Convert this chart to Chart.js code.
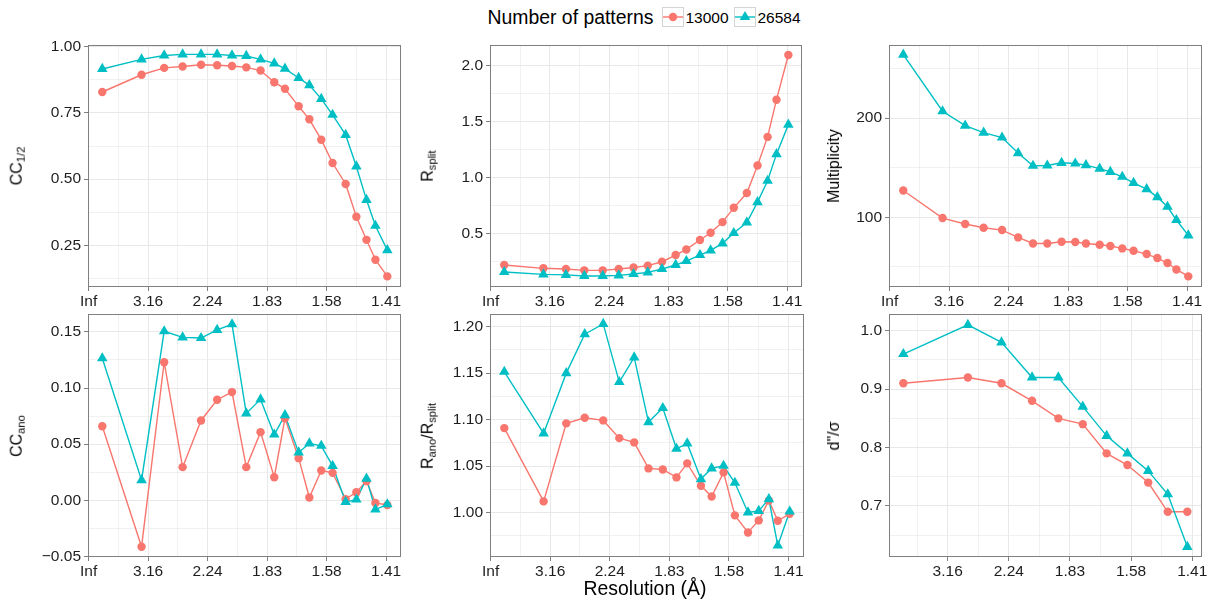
<!DOCTYPE html>
<html>
<head>
<meta charset="utf-8">
<script src="https://cdn.jsdelivr.net/npm/chart.js@4"></script>
<style>
  body { margin: 0; background: #fff; }
  #fig { position: relative; width: 1217px; height: 608px; overflow: hidden;
         font-family: 'Liberation Sans', Arial, sans-serif; color: #000; }
  #fig canvas { position: absolute; }
  .ytitle { position: absolute; font-size: 16px; white-space: nowrap; line-height: 1;
            transform: translate(-50%, -50%) rotate(-90deg); }
  .ytitle sub { font-size: 70%; vertical-align: -0.3em; }
  .xtitle { position: absolute; font-size: 19.4px; white-space: nowrap; line-height: 1;
            transform: translate(-50%, -50%); }
  .leg { position: absolute; white-space: nowrap; line-height: 1; }
</style>
</head>
<body>
<div id="fig"></div>
<script>
// resolution bins, plotted on a 1/d^2 axis
const binX = [0.023, 0.089, 0.127, 0.158, 0.189, 0.216, 0.241, 0.265, 0.289, 0.312,
              0.330, 0.353, 0.371, 0.391, 0.410, 0.432, 0.450, 0.467, 0.482, 0.502];
const danoX = [0.0275, 0.133, 0.188, 0.238, 0.281, 0.321, 0.360, 0.394, 0.428, 0.460, 0.492];

const resMajor = [0, 0.1, 0.2, 0.3, 0.4, 0.5];
const resLabels = ['Inf', '3.16', '2.24', '1.83', '1.58', '1.41'];
const resMinor = [0.05, 0.15, 0.25, 0.35, 0.45];

const seriesNames = ['13000', '26584'];
const seriesColors = ['#F8766D', '#00BFC4'];

const cchalf13000 = [0.829, 0.894, 0.920, 0.925, 0.932, 0.930, 0.927, 0.922, 0.910, 0.866,
                     0.841, 0.775, 0.726, 0.649, 0.561, 0.482, 0.358, 0.271, 0.196, 0.133];
const cchalf26584 = [0.916, 0.952, 0.967, 0.971, 0.971, 0.971, 0.967, 0.965, 0.952, 0.937,
                     0.917, 0.882, 0.855, 0.803, 0.743, 0.667, 0.548, 0.422, 0.324, 0.232];

const rsplit13000 = [0.218, 0.188, 0.182, 0.170, 0.170, 0.182, 0.196, 0.212, 0.247, 0.307,
                     0.357, 0.441, 0.506, 0.601, 0.729, 0.861, 1.107, 1.363, 1.696, 2.096];
const rsplit26584 = [0.155, 0.134, 0.129, 0.120, 0.120, 0.125, 0.137, 0.152, 0.182, 0.218,
                     0.253, 0.307, 0.348, 0.411, 0.504, 0.598, 0.780, 0.971, 1.209, 1.473];

const mult13000 = [127.1, 99.3, 93.3, 89.5, 87.2, 79.8, 73.7, 73.7, 75.4, 75.1,
                   73.7, 72.4, 71.1, 68.7, 66.4, 63.0, 59.0, 54.0, 47.5, 40.5];
const mult26584 = [264.0, 207.0, 192.5, 185.5, 180.5, 164.8, 152.0, 152.3, 155.0, 154.3,
                   152.7, 149.2, 145.9, 140.9, 134.8, 128.5, 120.4, 110.7, 97.3, 81.8];

const ccano13000 = [0.066, -0.0414, 0.123, 0.0295, 0.0711, 0.0896, 0.0964, 0.0295, 0.0607, 0.0205,
                    0.073, 0.0375, 0.0024, 0.0265, 0.0244, 0.001, 0.0071, 0.017, -0.0024, -0.0042];
const ccano26584 = [0.1265, 0.0179, 0.1506, 0.1452, 0.1446, 0.1518, 0.1568, 0.0774, 0.0899, 0.0586,
                    0.0759, 0.0426, 0.0506, 0.0485, 0.0306, -0.0015, 0.0006, 0.0193, -0.0083, -0.0036];

const ratio13000 = [1.0908, 1.0119, 1.0959, 1.102, 1.0991, 1.080, 1.0754, 1.0474, 1.0463, 1.0377,
                    1.0528, 1.0287, 1.0172, 1.0431, 0.9968, 0.9784, 0.9914, 1.0129, 0.991, 0.9985];
const ratio26584 = [1.1515, 1.0851, 1.150, 1.192, 1.203, 1.1404, 1.167, 1.0973, 1.1124, 1.0685,
                    1.0743, 1.0359, 1.0474, 1.0502, 1.0319, 1.000, 1.0017, 1.0143, 0.9644, 1.001];

const dano13000 = [0.91, 0.92, 0.91, 0.88, 0.85, 0.84, 0.79, 0.77, 0.74, 0.69, 0.69];
const dano26584 = [0.96, 1.01, 0.98, 0.92, 0.92, 0.87, 0.82, 0.79, 0.76, 0.72, 0.63];

// y ticks for each panel
const cchalfTicks = [0.25, 0.5, 0.75, 1.0], cchalfLabels = ['0.25', '0.50', '0.75', '1.00'];
const cchalfMinor = [0.125, 0.375, 0.625, 0.875];
const rsplitTicks = [0.5, 1.0, 1.5, 2.0], rsplitLabels = ['0.5', '1.0', '1.5', '2.0'];
const rsplitMinor = [0.25, 0.75, 1.25, 1.75];
const multTicks = [100, 200], multLabels = ['100', '200'];
const multMinor = [50, 150, 250];
const ccanoTicks = [-0.05, 0, 0.05, 0.1, 0.15], ccanoLabels = ['\u22120.05', '0.00', '0.05', '0.10', '0.15'];
const ccanoMinor = [-0.025, 0.025, 0.075, 0.125];
const ratioTicks = [1.0, 1.05, 1.1, 1.15, 1.2], ratioLabels = ['1.00', '1.05', '1.10', '1.15', '1.20'];
const ratioMinor = [0.975, 1.025, 1.075, 1.125, 1.175];
const danoTicks = [0.7, 0.8, 0.9, 1.0], danoLabels = ['0.7', '0.8', '0.9', '1.0'];
const danoMinor = [0.65, 0.75, 0.85, 0.95];

const panels = [
  { box: [88, 45, 401, 287], x: binX, a: cchalf13000, b: cchalf26584, xr: [-0.001, 0.525],
    yr: [0.093, 1.0064], yt: cchalfTicks, yl: cchalfLabels, ym: cchalfMinor,
    title: 'CC<sub>1/2</sub>', tx: 18 },
  { box: [490, 45, 802, 287], x: binX, a: rsplit13000, b: rsplit26584, xr: [-0.001, 0.525],
    yr: [0.021, 2.185], yt: rsplitTicks, yl: rsplitLabels, ym: rsplitMinor,
    title: 'R<sub>split</sub>', tx: 429 },
  { box: [889, 45, 1202, 287], x: binX, a: mult13000, b: mult26584, xr: [-0.001, 0.525],
    yr: [29.8, 273.8], yt: multTicks, yl: multLabels, ym: multMinor,
    title: 'Multiplicity', tx: 834 },
  { box: [88, 314, 401, 557], x: binX, a: ccano13000, b: ccano26584, xr: [-0.001, 0.525],
    yr: [-0.0506, 0.166], yt: ccanoTicks, yl: ccanoLabels, ym: ccanoMinor,
    title: 'CC<sub>ano</sub>', tx: 18 },
  { box: [490, 314, 804, 557], x: binX, a: ratio13000, b: ratio26584, xr: [-0.001, 0.526],
    yr: [0.952, 1.2137], yt: ratioTicks, yl: ratioLabels, ym: ratioMinor,
    title: 'R<sub>ano</sub>/R<sub>split</sub>', tx: 429 },
  { box: [889, 314, 1202, 557], x: danoX, a: dano13000, b: dano26584, xr: [0.004, 0.516],
    yr: [0.6126, 1.0286], yt: danoTicks, yl: danoLabels, ym: danoMinor,
    title: 'd"/\u03c3', tx: 834 }
];

const fig = document.getElementById('fig');
const tickCol = '#1e1e1e';
const frameCol = '#7f7f7f';
const gridCol = '#e8e8e8';

Chart.defaults.font.family = "'Liberation Sans', Arial, sans-serif";

const near = (arr, v) => arr.findIndex(t => Math.abs(t - v) < 1e-9);

// panel border drawn on top of everything, like a ggplot panel.border
const frame = {
  id: 'frame',
  afterDraw(chart) {
    const a = chart.chartArea, ctx = chart.ctx;
    ctx.save();
    ctx.strokeStyle = frameCol;
    ctx.lineWidth = 1;
    ctx.strokeRect(a.left + 0.5, a.top + 0.5, a.right - a.left - 1, a.bottom - a.top - 1);
    ctx.restore();
  }
};

function axis(major, minor, labels, range, isX, size) {
  const all = major.concat(minor).filter(v => v >= range[0] && v <= range[1]).sort((p, q) => p - q);
  return {
    type: 'linear', min: range[0], max: range[1],
    afterBuildTicks: s => { s.ticks = all.map(v => ({ value: v })); },
    afterFit: s => { if (isX) s.height = size; else s.width = size; },
    ticks: {
      autoSkip: false, maxRotation: 0, padding: isX ? 1 : 3, color: tickCol,
      font: { size: 15.5 },
      callback: v => { const i = near(major, v); return i < 0 ? '' : labels[i]; }
    },
    grid: {
      color: c => gridCol,
      lineWidth: c => near(major, c.tick.value) < 0 ? 0.6 : 1,
      tickLength: 4,
      tickWidth: 1,
      tickColor: c => near(major, c.tick.value) < 0 ? 'rgba(0,0,0,0)' : frameCol
    },
    border: { display: false }
  };
}

function makePanel(p) {
  const yw = 72, padT = 14, padR = 14, xh = 30;
  const [L, T, R, B] = p.box;
  const cv = document.createElement('canvas');
  cv.width = R - L + yw + padR;
  cv.height = B - T + padT + xh;
  cv.style.left = (L - yw) + 'px';
  cv.style.top = (T - padT) + 'px';
  fig.appendChild(cv);

  const pts = ys => p.x.map((x, i) => ({ x: x, y: ys[i] }));
  const pointSet = (ys, k, style, r, order) => ({
    data: pts(ys), showLine: false, pointStyle: style, pointRadius: r,
    pointBackgroundColor: seriesColors[k], pointBorderWidth: 0, order: order
  });
  const lineSet = (ys, k, order) => ({
    data: pts(ys), pointRadius: 0, borderColor: seriesColors[k], borderWidth: 1.4,
    tension: 0, order: order
  });

  new Chart(cv, {
    type: 'line',
    data: {
      datasets: [
        pointSet(p.b, 1, 'triangle', 6.1, 0),
        pointSet(p.a, 0, 'circle', 4.2, 1),
        lineSet(p.b, 1, 2),
        lineSet(p.a, 0, 3)
      ]
    },
    options: {
      responsive: false, animation: false, devicePixelRatio: 1, events: [],
      layout: { padding: { top: padT, right: padR, left: 0, bottom: 0 } },
      plugins: { legend: { display: false }, tooltip: { enabled: false } },
      scales: {
        x: axis(resMajor, resMinor, resLabels, p.xr, true, xh),
        y: axis(p.yt, p.ym, p.yl, p.yr, false, yw)
      }
    },
    plugins: [frame]
  });

  const t = document.createElement('div');
  t.className = 'ytitle';
  t.innerHTML = p.title;
  t.style.left = p.tx + 'px';
  t.style.top = ((T + B) / 2) + 'px';
  fig.appendChild(t);
}

panels.forEach(makePanel);

// shared x title
const xt = document.createElement('div');
xt.className = 'xtitle';
xt.textContent = 'Resolution (\u00c5)';
xt.style.left = '645px';
xt.style.top = '589px';
fig.appendChild(xt);

// shared legend at the top
function legendItem(html, left, top, size) {
  const d = document.createElement('div');
  d.className = 'leg';
  d.innerHTML = html;
  d.style.left = left + 'px';
  d.style.top = top + 'px';
  d.style.fontSize = size + 'px';
  fig.appendChild(d);
  return d;
}
legendItem('Number of patterns', 487.5, 8, 19.4);
const keyLeft = [662, 734];
const shapes = [
  c => `<circle cx="11" cy="10" r="4.2" fill="${c}"/>`,
  c => `<polygon points="11,3.9 16.3,13.05 5.7,13.05" fill="${c}"/>`
];
seriesNames.forEach((name, k) => {
  const c = seriesColors[k];
  legendItem(`<svg width="22" height="20" style="display:block">
    <rect x="0.5" y="0.5" width="21" height="19" fill="#fff" stroke="#d4d4d4"/>
    <line x1="1" y1="10" x2="21" y2="10" stroke="${c}" stroke-width="1.4"/>
    ${shapes[k](c)}</svg>`, keyLeft[k], 7, 10);
  legendItem(name, keyLeft[k] + 23.5, 10, 15.5);
});
</script>
</body>
</html>
